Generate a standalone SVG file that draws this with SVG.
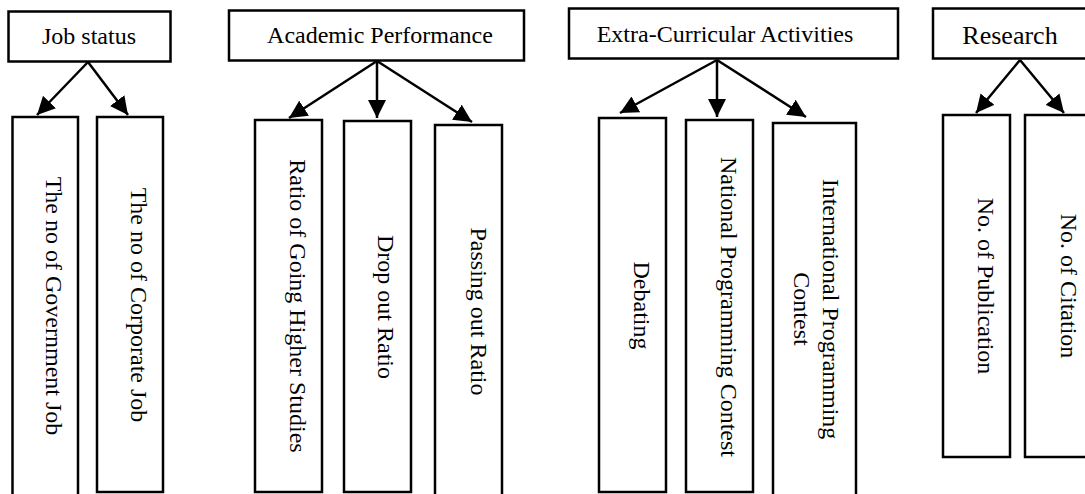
<svg xmlns="http://www.w3.org/2000/svg" width="1085" height="494" viewBox="0 0 1085 494">
<style>
.box{fill:#fff;stroke:#000;stroke-width:2.5}
.t{font-family:"Liberation Serif","Times New Roman",serif;font-size:24px;fill:#000;text-anchor:middle}
.conn{stroke:#000;stroke-width:2.5;fill:none;marker-end:url(#ah)}
</style>
<defs>
<marker id="ah" markerUnits="userSpaceOnUse" viewBox="0 0 18 18" refX="18" refY="9" markerWidth="18" markerHeight="18" orient="auto">
<path d="M0,0 L18,9 L0,18 z" fill="#000"/>
</marker>
</defs>
<rect width="1085" height="494" fill="#fff"/>
<g id="connectors">
<line class="conn" x1="88" y1="62" x2="37" y2="115"/>
<line class="conn" x1="88" y1="62" x2="128" y2="115"/>
<line class="conn" x1="377" y1="61" x2="289" y2="118"/>
<line class="conn" x1="377" y1="61" x2="377" y2="118"/>
<line class="conn" x1="377" y1="61" x2="472" y2="122"/>
<line class="conn" x1="717" y1="60" x2="620" y2="113"/>
<line class="conn" x1="717" y1="60" x2="717" y2="117"/>
<line class="conn" x1="717" y1="60" x2="806" y2="117"/>
<line class="conn" x1="1020" y1="60" x2="976" y2="113"/>
<line class="conn" x1="1020" y1="60" x2="1064" y2="113"/>
</g>
<g id="job-status">
<rect class="box" x="8.5" y="11.5" width="162" height="50"/>
<text class="t" x="89" y="44">Job status</text>
</g>
<g id="gov-job">
<rect class="box" x="12.5" y="117" width="65.5" height="400"/>
<text class="t" transform="translate(45.5,306) rotate(90)">The no of Government Job</text>
</g>
<g id="corp-job">
<rect class="box" x="97" y="117" width="66" height="375"/>
<text class="t" transform="translate(131,305) rotate(90)">The no of Corporate Job</text>
</g>
<g id="academic">
<rect class="box" x="229" y="10.5" width="295" height="50"/>
<text class="t" x="380" y="43">Academic Performance</text>
</g>
<g id="higher-studies">
<rect class="box" x="255" y="120" width="67" height="372"/>
<text class="t" transform="translate(290,306) rotate(90)">Ratio of Going Higher Studies</text>
</g>
<g id="drop-out">
<rect class="box" x="344" y="121" width="67" height="371"/>
<text class="t" transform="translate(378,307) rotate(90)">Drop out Ratio</text>
</g>
<g id="passing-out">
<rect class="box" x="435" y="125" width="67" height="400"/>
<text class="t" transform="translate(470.5,311.5) rotate(90)">Passing out Ratio</text>
</g>
<g id="extra">
<rect class="box" x="569" y="8.5" width="329" height="50"/>
<text class="t" x="725" y="42">Extra-Curricular Activities</text>
</g>
<g id="debating">
<rect class="box" x="599" y="118" width="67" height="374"/>
<text class="t" transform="translate(633.5,305.5) rotate(90)">Debating</text>
</g>
<g id="national">
<rect class="box" x="686" y="120" width="67" height="372"/>
<text class="t" transform="translate(720.5,307) rotate(90)">National Programming Contest</text>
</g>
<g id="international">
<rect class="box" x="773" y="123" width="83" height="400"/>
<text class="t" transform="translate(823,309) rotate(90)">International Programming</text>
<text class="t" transform="translate(793.5,309) rotate(90)">Contest</text>
</g>
<g id="research">
<rect class="box" x="933" y="8.5" width="200" height="50"/>
<text class="t" x="1010" y="44" style="font-size:26px">Research</text>
</g>
<g id="publication">
<rect class="box" x="943" y="115" width="67" height="342"/>
<text class="t" transform="translate(978,286) rotate(90)">No. of Publication</text>
</g>
<g id="citation">
<rect class="box" x="1025" y="115" width="100" height="342"/>
<text class="t" transform="translate(1061,286) rotate(90)">No. of Citation</text>
</g>
</svg>
